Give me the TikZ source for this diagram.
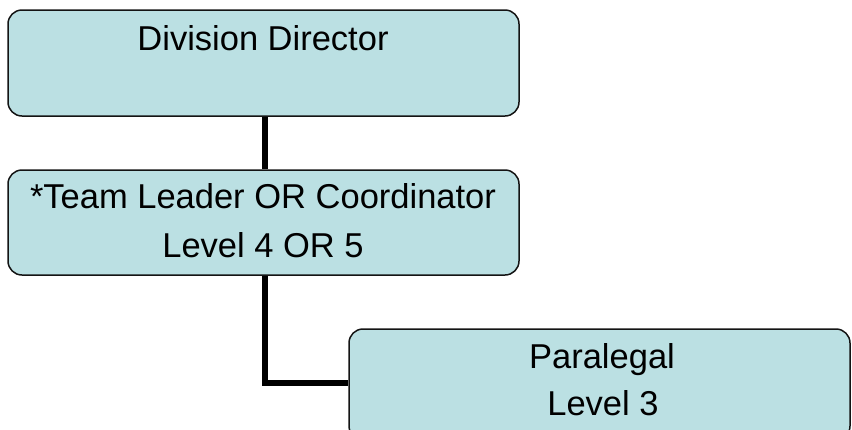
\documentclass[tikz,border=0pt]{standalone}
\usepackage{fontspec}
\setmainfont{Liberation Sans}
\definecolor{boxfill}{RGB}{187,224,227}
\definecolor{boxline}{RGB}{20,20,20}
\begin{document}
\begin{tikzpicture}[x=1pt,y=-1pt,
  orgbox/.style={draw=boxline,line width=1.5pt,fill=boxfill,rounded corners=14pt,
    rectangle,inner sep=0pt,minimum width=#1},
  orgbox/.default=511pt,
  lbl/.style={anchor=base,inner sep=0pt,font=\fontsize{34.5}{40}\selectfont},
  conn/.style={line width=6pt,black}]
\useasboundingbox (0,0) rectangle (852,429);
\node[orgbox,minimum height=106pt] (dir) at (263.5,63) {};
\node[orgbox,minimum height=105pt] (lead) at (263.5,222.5) {};
\node[orgbox=501pt,minimum height=111pt] (para) at (599.5,384.5) {};
\draw[conn] ([xshift=1.5pt]dir.south) -- ([xshift=1.5pt]lead.north);
\draw[conn] ([xshift=1pt]lead.south) |- ([yshift=2pt]para.west);
\node[lbl] (t1) at (263,50) {Division Director};
\node[lbl] (t2) at (263,208) {*Team Leader OR Coordinator};
\node[lbl] (t3) at (263,257) {Level 4 OR 5};
\node[lbl] (t4) at (602,368) {Paralegal};
\node[lbl] (t5) at (603,415) {Level 3};
\end{tikzpicture}
\end{document}
